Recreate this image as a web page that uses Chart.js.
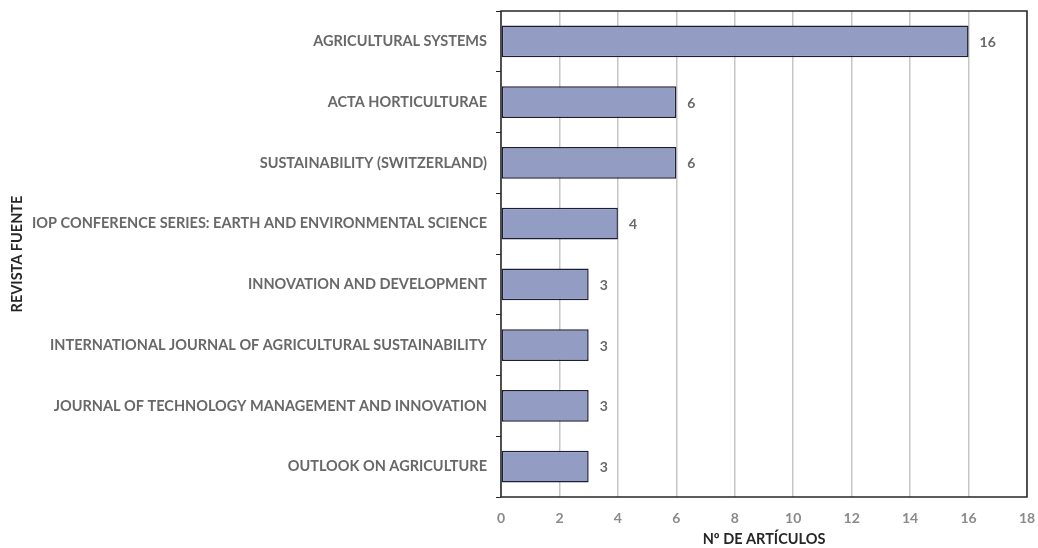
<!DOCTYPE html>
<html>
<head>
<meta charset="utf-8">
<script src="https://cdn.jsdelivr.net/npm/chart.js@4"></script>
<style>
  html, body { margin: 0; padding: 0; background: #fff; }
  #wrap { width: 1038px; height: 548px; }
</style>
</head>
<body>
<div id="wrap"><canvas id="chart" width="1038" height="548"></canvas></div>
<script>
// journals and article counts, top to bottom
const journals = [
  "AGRICULTURAL SYSTEMS",
  "ACTA HORTICULTURAE",
  "SUSTAINABILITY (SWITZERLAND)",
  "IOP CONFERENCE SERIES: EARTH AND ENVIRONMENTAL SCIENCE",
  "INNOVATION AND DEVELOPMENT",
  "INTERNATIONAL JOURNAL OF AGRICULTURAL SUSTAINABILITY",
  "JOURNAL OF TECHNOLOGY MANAGEMENT AND INNOVATION",
  "OUTLOOK ON AGRICULTURE",
];
const articles = [16, 6, 6, 4, 3, 3, 3, 3];
const xTicks = [0, 2, 4, 6, 8, 10, 12, 14, 16, 18];

const FONT = "Lato, 'Liberation Sans', sans-serif";
const GREY = "#686868";

// frame round the plot area + value labels next to each bar
const framePlugin = {
  id: "frame",
  afterDatasetsDraw(chart) {
    const { ctx, chartArea: a } = chart;
    ctx.save();
    ctx.strokeStyle = "#262626";
    ctx.lineWidth = 1.5;
    ctx.strokeRect(a.left, a.top, a.right - a.left, a.bottom - a.top);
    const meta = chart.getDatasetMeta(0);
    ctx.fillStyle = GREY;
    ctx.font = "bold 14px " + FONT;
    ctx.textBaseline = "middle";
    meta.data.forEach((bar, i) => {
      ctx.fillText(String(articles[i]), bar.x + 11, bar.y + 1);
    });
    ctx.restore();
  },
};

// soft vertical shading on each bar, like the original
function barFill(c) {
  const el = c.element;
  if (!el || !isFinite(el.y) || !el.height) return "#939cc3";
  const g = c.chart.ctx.createLinearGradient(0, el.y - el.height / 2, 0, el.y + el.height / 2);
  g.addColorStop(0, "#9ba4cb");
  g.addColorStop(1, "#8a93bc");
  return g;
}

new Chart(document.getElementById("chart"), {
  type: "bar",
  data: {
    labels: journals,
    datasets: [
      {
        data: articles,
        backgroundColor: barFill,
        borderColor: "#1c1e33",
        borderWidth: 1.5,
        borderSkipped: false,
        barPercentage: 0.52,
        categoryPercentage: 1,
      },
    ],
  },
  plugins: [framePlugin],
  options: {
    indexAxis: "y",
    responsive: false,
    animation: false,
    layout: { padding: { top: 11, right: 11, left: 9, bottom: 0 } },
    plugins: { legend: { display: false }, tooltip: { enabled: false } },
    scales: {
      x: {
        min: 0,
        max: 18,
        afterBuildTicks: (s) => { s.ticks = xTicks.map((v) => ({ value: v })); },
        afterFit: (s) => { s.height = 51; s.paddingRight = 0; s.paddingLeft = 0; },
        grid: { color: "#c6c6c6", lineWidth: 1.5, drawTicks: false },
        border: { display: false },
        ticks: { color: "#8a8a8a", font: { family: FONT, size: 14, weight: "bold" }, padding: 13 },
        title: {
          display: true,
          text: "Nº DE ARTÍCULOS",
          color: "#262626",
          font: { family: FONT, size: 14.5, weight: "bold" },
          padding: { top: 1, bottom: 0 },
        },
      },
      y: {
        afterFit: (s) => { s.width = 492; s.paddingTop = 0; s.paddingBottom = 0; },
        grid: { drawOnChartArea: false, offset: true, tickLength: 5, color: "#262626", lineWidth: 1 },
        border: { display: false },
        ticks: { color: GREY, font: { family: FONT, size: 14.5, weight: "bold" }, padding: 9 },
        title: {
          display: true,
          text: "REVISTA FUENTE",
          color: "#262626",
          font: { family: FONT, size: 14.5, weight: "bold" },
          padding: { top: 0, bottom: 4 },
        },
      },
    },
  },
});
</script>
</body>
</html>
